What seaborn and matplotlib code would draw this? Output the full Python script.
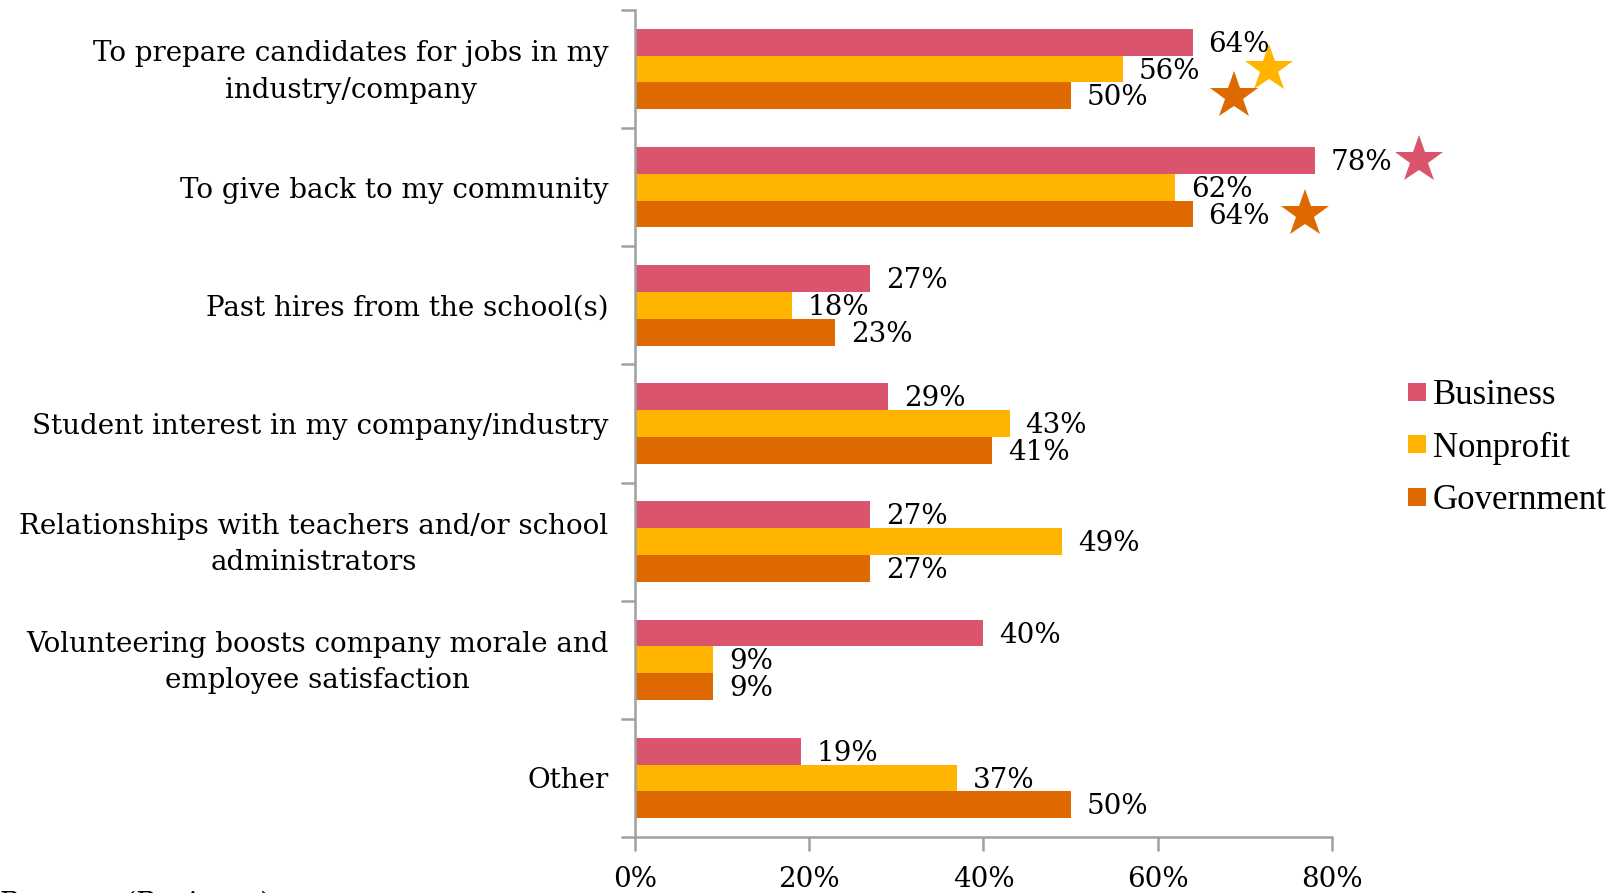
import matplotlib
matplotlib.use("Agg")
import matplotlib.pyplot as plt
from matplotlib.lines import Line2D
from matplotlib.ticker import FixedLocator, PercentFormatter
from matplotlib.transforms import ScaledTranslation
import seaborn as sns
import pandas as pd

# Survey responses: reasons for partnering with schools, by sector (% of respondents)
categories = [
    "To prepare candidates for jobs in my\nindustry/company",
    "To give back to my community",
    "Past hires from the school(s)",
    "Student interest in my company/industry",
    "Relationships with teachers and/or school\nadministrators",
    "Volunteering boosts company morale and\nemployee satisfaction",
    "Other",
]
sectors = ["Business", "Nonprofit", "Government"]
business = [64, 78, 27, 29, 27, 40, 19]
nonprofit = [56, 62, 18, 43, 49, 9, 37]
government = [50, 64, 23, 41, 27, 9, 50]

# Significance stars: (category index, sector, position on the % axis)
stars = [
    (0, "Nonprofit", 72.8),
    (0, "Government", 68.8),
    (1, "Business", 90.0),
    (1, "Government", 76.9),
]

x_ticks = [0, 20, 40, 60, 80]

colors = {"Business": "#DB546E", "Nonprofit": "#FFB500", "Government": "#DD6900"}
gray = "#A0A0A0"
label_font = "DejaVu Serif"
legend_font = "Liberation Serif"

sns.set_theme(style="white")
plt.rcParams["font.family"] = [label_font, "DejaVu Sans"]
plt.rcParams["text.color"] = "black"

df = pd.DataFrame({
    "category": categories * 3,
    "sector": [s for s in sectors for _ in categories],
    "pct": business + nonprofit + government,
})

fig = plt.figure(figsize=(16.22, 8.93), dpi=100)
ax = fig.add_axes([0.3915, 0.0627, 0.4297, 0.9261])

sns.barplot(
    data=df, y="category", x="pct", hue="sector", orient="h",
    order=categories, hue_order=sectors, palette=colors,
    width=0.68, saturation=1, linewidth=0, legend=False, ax=ax,
)

ax.set_xlim(0, 80)
ax.set_ylim(len(categories) - 0.5, -0.5)
ax.set_xticks(x_ticks)
ax.xaxis.set_major_formatter(PercentFormatter(decimals=0))
ax.set_xlabel("")
ax.set_ylabel("")

# Category labels centred on groups; tick marks drawn between groups
ax.yaxis.set_minor_locator(FixedLocator([k - 0.5 for k in range(len(categories) + 1)]))
ax.tick_params(axis="y", which="major", left=True, length=0, pad=19, labelsize=20,
               labelcolor="black")
ax.tick_params(axis="y", which="minor", left=True, length=10, width=1.8,
               color=gray, direction="out")
ax.tick_params(axis="x", which="major", bottom=True, length=10, width=1.8, color=gray,
               direction="out", pad=11, labelsize=20, labelcolor="black")
lift = ScaledTranslation(0, 5 / 100, fig.dpi_scale_trans)
for lab in ax.get_yticklabels():
    lab.set_multialignment("center")
    lab.set_linespacing(1.45)
    if "\n" in lab.get_text():
        lab.set_transform(lab.get_transform() + lift)

for side in ("top", "right"):
    ax.spines[side].set_visible(False)
for side in ("left", "bottom"):
    ax.spines[side].set_color(gray)
    ax.spines[side].set_linewidth(1.8)

# Value labels just past the end of each bar
series = {"Business": business, "Nonprofit": nonprofit, "Government": government}
bar_centers = {}
for sector, container in zip(sectors, ax.containers):
    vals = series[sector]
    for i, (bar, v) in enumerate(zip(container, vals)):
        yc = bar.get_y() + bar.get_height() / 2
        bar_centers[(i, sector)] = yc
        ax.annotate(f"{v}%", xy=(v, yc), xytext=(11.5, -1.5),
                    textcoords="offset points", ha="left", va="center",
                    fontsize=20, color="black", annotation_clip=False)

# Significance stars
for i, sector, xpos in stars:
    ax.plot([xpos], [bar_centers[(i, sector)]], marker="*", markersize=36,
            color=colors[sector], markeredgewidth=0, clip_on=False, zorder=5)

# Legend
handles = [Line2D([0], [0], marker="s", linestyle="none", markersize=12.5,
                  markerfacecolor=colors[s], markeredgewidth=0) for s in sectors]
leg = fig.legend(handles, sectors, loc="center left",
                 bbox_to_anchor=(1407 / 1622, 1 - 448 / 893), frameon=False,
                 prop={"family": legend_font, "size": 25}, handlelength=0.6,
                 handletextpad=0.15, labelspacing=0.56, borderpad=0, borderaxespad=0)
for t in leg.get_texts():
    t.set_color("black")

# Footer caption, running off the bottom edge
fig.text(0.0, 1 - 912 / 893, "Reasons (Business)", ha="left", va="baseline",
         fontsize=20, color="black")

fig.savefig("out.png", dpi=100)
